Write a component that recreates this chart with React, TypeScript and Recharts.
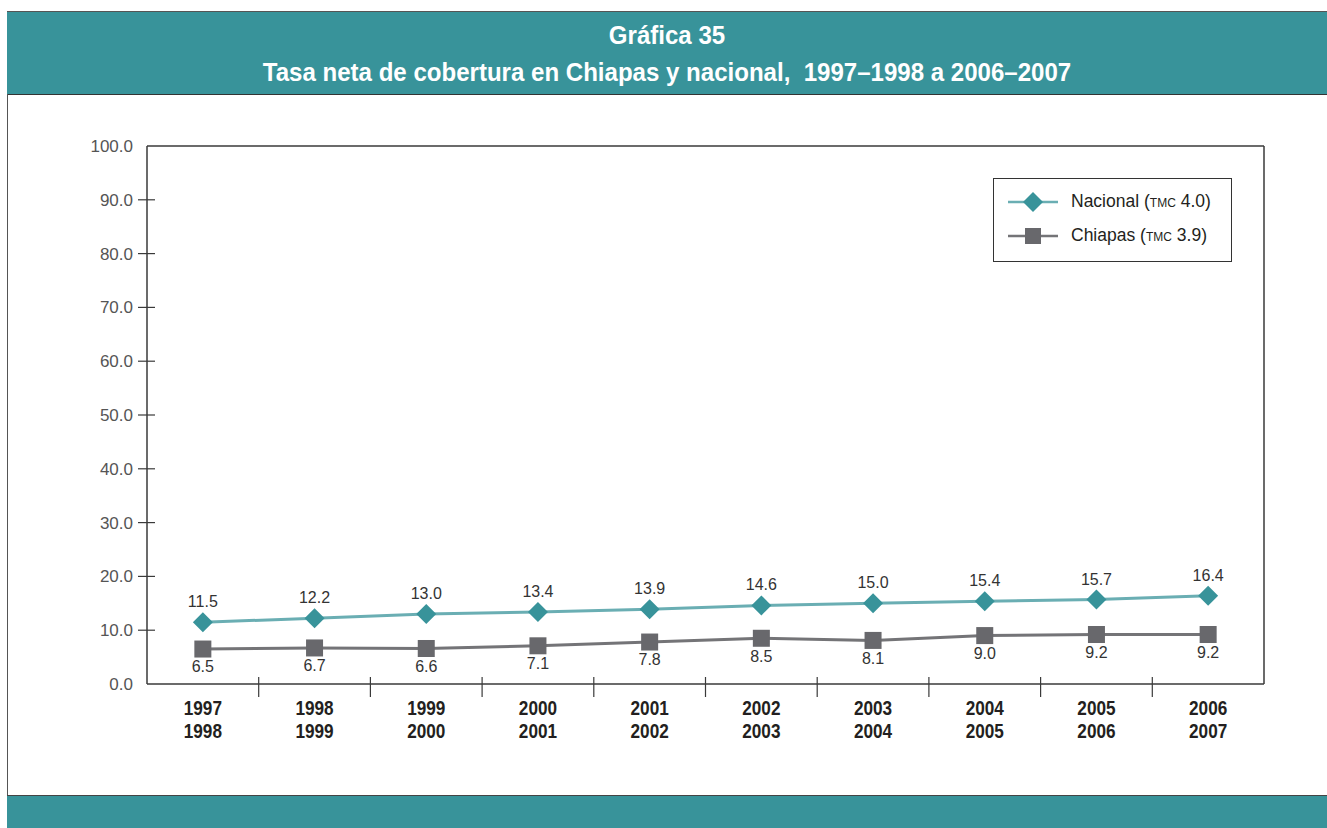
import React from "react";
import {
  LineChart,
  Line,
  XAxis,
  YAxis,
  Legend,
  LabelList,
  CartesianGrid,
} from "recharts";

const periods = [
  "1997-1998",
  "1998-1999",
  "1999-2000",
  "2000-2001",
  "2001-2002",
  "2002-2003",
  "2003-2004",
  "2004-2005",
  "2005-2006",
  "2006-2007",
];
const nacional = [11.5, 12.2, 13.0, 13.4, 13.9, 14.6, 15.0, 15.4, 15.7, 16.4];
const chiapas = [6.5, 6.7, 6.6, 7.1, 7.8, 8.5, 8.1, 9.0, 9.2, 9.2];
const yTicks = [0, 10, 20, 30, 40, 50, 60, 70, 80, 90, 100];
const seriesInfo = [
  { key: "nacional", name: "Nacional", tmc: "4.0" },
  { key: "chiapas", name: "Chiapas", tmc: "3.9" },
];

const data = periods.map((p, i) => ({
  period: p,
  nacional: nacional[i],
  chiapas: chiapas[i],
}));

const TEAL = "#38939a";
const TEAL_LINE = "#6aaeb3";
const GREY = "#68686c";
const GREY_LINE = "#747477";
const AXIS = "#3a3a3a";
const SANS = "'Liberation Sans', Arial, Helvetica, sans-serif";

const W = 1327;
const H = 760;
const M = { top: 146, right: 63, left: 87, bottom: 6 };
const Y_W = 60;
const BAND = (W - M.left - M.right - Y_W) / periods.length;

const YTick = (props: any) => {
  const { x, y, payload } = props;
  const v = payload.value;
  return (
    <g>
      {v > 0 && v < 100 && (
        <line x1={x + 5} x2={x + 22} y1={y} y2={y} stroke={AXIS} strokeWidth={1.2} />
      )}
      <text x={x} y={y} dy={6} textAnchor="end" fill="#555" fontSize={17} fontFamily={SANS}>
        {v.toFixed(1)}
      </text>
    </g>
  );
};

const XTick = (props: any) => {
  const { x, y, payload, index } = props;
  const [a, b] = String(payload.value).split("-");
  const txt = (s: string, dy: number) => (
    <text
      transform={`translate(${x},${y + dy}) scale(0.86,1)`}
      textAnchor="middle"
      fill="#231f20"
      fontSize={20}
      fontWeight="bold"
      fontFamily={SANS}
    >
      {s}
    </text>
  );
  return (
    <g>
      {index < periods.length - 1 && (
        <line
          x1={x + BAND / 2}
          x2={x + BAND / 2}
          y1={y - 7}
          y2={y + 13}
          stroke={AXIS}
          strokeWidth={1.2}
        />
      )}
      {txt(a, 31)}
      {txt(b, 54)}
    </g>
  );
};

const Diamond = (props: any) => {
  const { cx, cy } = props;
  if (cx == null || cy == null) return null;
  const r = 10;
  return (
    <path
      d={`M${cx},${cy - r} L${cx + r},${cy} L${cx},${cy + r} L${cx - r},${cy} Z`}
      fill={TEAL}
    />
  );
};

const Square = (props: any) => {
  const { cx, cy } = props;
  if (cx == null || cy == null) return null;
  const s = 17;
  return <rect x={cx - s / 2} y={cy - s / 2} width={s} height={s} fill={GREY} />;
};

const LegendBox = () => (
  <div
    style={{
      width: 237,
      height: 76,
      border: "1px solid #333",
      background: "#fff",
      boxSizing: "content-box",
      paddingTop: 6,
    }}
  >
    {seriesInfo.map((s, i) => (
      <div
        key={s.key}
        style={{ display: "flex", alignItems: "center", height: 34, marginLeft: 14 }}
      >
        <svg width={50} height={24}>
          <line
            x1={0}
            x2={50}
            y1={12}
            y2={12}
            stroke={i === 0 ? TEAL_LINE : GREY_LINE}
            strokeWidth={2.5}
          />
          {i === 0 ? (
            <path d="M25,2 L35,12 L25,22 L15,12 Z" fill={TEAL} />
          ) : (
            <rect x={17} y={4} width={16} height={16} fill={GREY} />
          )}
        </svg>
        <span
          style={{
            marginLeft: 13,
            fontFamily: SANS,
            fontSize: 17.5,
            color: "#231f20",
            whiteSpace: "nowrap",
            lineHeight: "20px",
          }}
        >
          {s.name} (<span style={{ fontSize: 12 }}>TMC</span> {s.tmc})
        </span>
      </div>
    ))}
  </div>
);

export default function App() {
  return (
    <div
      style={{
        position: "relative",
        width: W,
        height: 828,
        background: "#fff",
        overflow: "hidden",
      }}
    >
      <style>{`body{margin:0}`}</style>
      <div
        style={{
          position: "absolute",
          left: 7,
          top: 11,
          width: W - 7,
          height: 82,
          background: TEAL,
          borderTop: "1px solid #555",
          borderBottom: "1px solid #333",
          color: "#fff",
          fontFamily: SANS,
          fontWeight: "bold",
          fontSize: 26,
          textAlign: "center",
        }}
      >
        <div style={{ position: "absolute", top: 8, width: "100%", transform: "scaleX(0.925)" }}>
          Gráfica 35
        </div>
        <div style={{ position: "absolute", top: 45, width: "100%", transform: "scaleX(0.925)" }}>
          Tasa neta de cobertura en Chiapas y nacional,&nbsp; 1997–1998 a 2006–2007
        </div>
      </div>
      <div
        style={{
          position: "absolute",
          left: 7,
          top: 94,
          width: 1,
          height: 701,
          background: "#555",
        }}
      />
      <div
        style={{
          position: "absolute",
          left: 7,
          top: 795,
          width: W - 7,
          height: 33,
          background: TEAL,
          borderTop: "1px solid #444",
        }}
      />
      <div style={{ position: "absolute", left: 0, top: 0 }}>
        <LineChart width={W} height={H} data={data} margin={M}>
          <CartesianGrid
            stroke={AXIS}
            strokeWidth={1.5}
            horizontalCoordinatesGenerator={(p: any) => [p.offset.top]}
            verticalCoordinatesGenerator={(p: any) => [p.offset.left + p.offset.width]}
          />
          <XAxis
            dataKey="period"
            scale="band"
            interval={0}
            tickLine={false}
            tickSize={0}
            tickMargin={0}
            height={70}
            axisLine={{ stroke: AXIS, strokeWidth: 1.5 }}
            tick={<XTick />}
          />
          <YAxis
            domain={[0, 100]}
            ticks={yTicks}
            interval={0}
            width={Y_W}
            tickLine={false}
            tickSize={12}
            tickMargin={2}
            axisLine={{ stroke: AXIS, strokeWidth: 1.5 }}
            tick={<YTick />}
          />
          <Legend
            layout="horizontal"
            align="center"
            verticalAlign="middle"
            wrapperStyle={{ top: 178, right: 95, left: "auto", bottom: "auto", width: "auto" }}
            content={<LegendBox />}
          />
          <Line
            dataKey="nacional"
            name="Nacional"
            stroke={TEAL_LINE}
            strokeWidth={3}
            dot={<Diamond />}
            activeDot={false}
            isAnimationActive={false}
          >
            <LabelList
              dataKey="nacional"
              position="top"
              offset={15}
              fill="#333"
              fontSize={16}
              fontFamily={SANS}
              formatter={(v: any) => Number(v).toFixed(1)}
            />
          </Line>
          <Line
            dataKey="chiapas"
            name="Chiapas"
            stroke={GREY_LINE}
            strokeWidth={3}
            dot={<Square />}
            activeDot={false}
            isAnimationActive={false}
          >
            <LabelList
              dataKey="chiapas"
              position="bottom"
              offset={12}
              fill="#333"
              fontSize={16}
              fontFamily={SANS}
              formatter={(v: any) => Number(v).toFixed(1)}
            />
          </Line>
        </LineChart>
      </div>
    </div>
  );
}
